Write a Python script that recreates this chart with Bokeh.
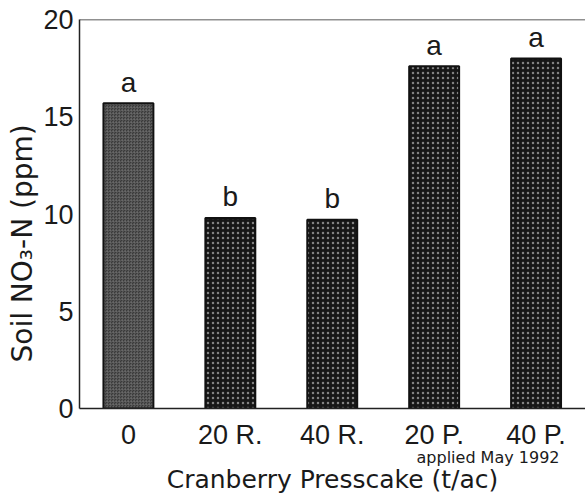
from bokeh.plotting import figure
from bokeh.models import FixedTicker, Span, Range1d, Title
from bokeh.core.properties import value
from bokeh.embed import file_html
from bokeh.resources import INLINE

# ---- data ----
categories = ["0", "20 R.", "40 R.", "20 P.", "40 P."]
no3_ppm = [15.7, 9.8, 9.7, 17.6, 18.0]
letters = ["a", "b", "b", "a", "a"]
y_ticks = [0, 5, 10, 15, 20]
x_title = "Cranberry Presscake (t/ac)"
y_title = "Soil NO\u2083-N (ppm)"
note = "applied May 1992"

x = list(range(1, len(categories) + 1))

p = figure(width=585, height=496, output_backend="svg", toolbar_location=None,
           x_range=Range1d(0.52, 5.485), y_range=Range1d(0, 20),
           min_border_left=79, min_border_right=0, min_border_top=19,
           min_border_bottom=85)
p.outline_line_color = None
p.xgrid.visible = False
p.ygrid.visible = False
p.background_fill_color = "white"
p.border_fill_color = "white"

# bars: control (fine grey texture) and presscake treatments (dark speckled)
p.vbar(x=x[:1], top=no3_ppm[:1], bottom=0, width=0.49,
       fill_color="#3a3a3a", line_color="#111111", line_width=2,
       hatch_pattern="criss_cross", hatch_color="#7a7a7a",
       hatch_scale=3, hatch_weight=0.6, hatch_alpha=0.6)
p.vbar(x=x[1:], top=no3_ppm[1:], bottom=0, width=0.49,
       fill_color="#161616", line_color="#111111", line_width=2,
       hatch_pattern="dot", hatch_color="#d8d8d8",
       hatch_scale=5, hatch_weight=1, hatch_alpha=0.55)

# significance letters
p.text(x=x, y=no3_ppm, text=letters, y_offset=-21, text_align="center",
       text_baseline="alphabetic", text_font=value("Liberation Sans"),
       text_font_size="28px", text_color="#1a1a1a")

# top frame line
p.add_layout(Span(location=20, dimension="width", line_color="#222222",
                  line_width=1.5))

# x axis
xa = p.xaxis[0]
xa.ticker = FixedTicker(ticks=x)
xa.major_label_overrides = {xi: c for xi, c in zip(x, categories)}
xa.major_tick_out = 0
xa.major_tick_in = 0
xa.minor_tick_out = 0
xa.minor_tick_in = 0
xa.major_label_standoff = 11
xa.major_label_text_font = "Liberation Sans"
xa.major_label_text_font_size = "27px"
xa.major_label_text_color = "#1a1a1a"
xa.axis_line_color = "#222222"
xa.axis_line_width = 1.5

# y axis
ya = p.yaxis[0]
ya.ticker = FixedTicker(ticks=y_ticks)
ya.major_tick_out = 0
ya.major_tick_in = 0
ya.minor_tick_out = 0
ya.minor_tick_in = 0
ya.major_label_standoff = 6
ya.major_label_text_font = "Liberation Sans"
ya.major_label_text_font_size = "27px"
ya.major_label_text_color = "#1a1a1a"
ya.axis_line_color = "#222222"
ya.axis_line_width = 1.5

# note under the P. categories, then the x title
p.add_layout(Title(text=note, align="right", offset=26, standoff=-13,
                   text_font="DejaVu Sans", text_font_size="16px",
                   text_font_style="normal", text_color="#1a1a1a"), "below")
p.add_layout(Title(text=x_title, align="center", standoff=5,
                   text_font="DejaVu Sans", text_font_size="25px",
                   text_font_style="normal", text_color="#1a1a1a"), "below")

# rotated y title
p.add_layout(Title(text=y_title, align="left", offset=46, standoff=4,
                   text_font="DejaVu Sans", text_font_size="28px",
                   text_font_style="normal", text_color="#1a1a1a"), "left")

open("out.html", "w").write(file_html(p, INLINE))
